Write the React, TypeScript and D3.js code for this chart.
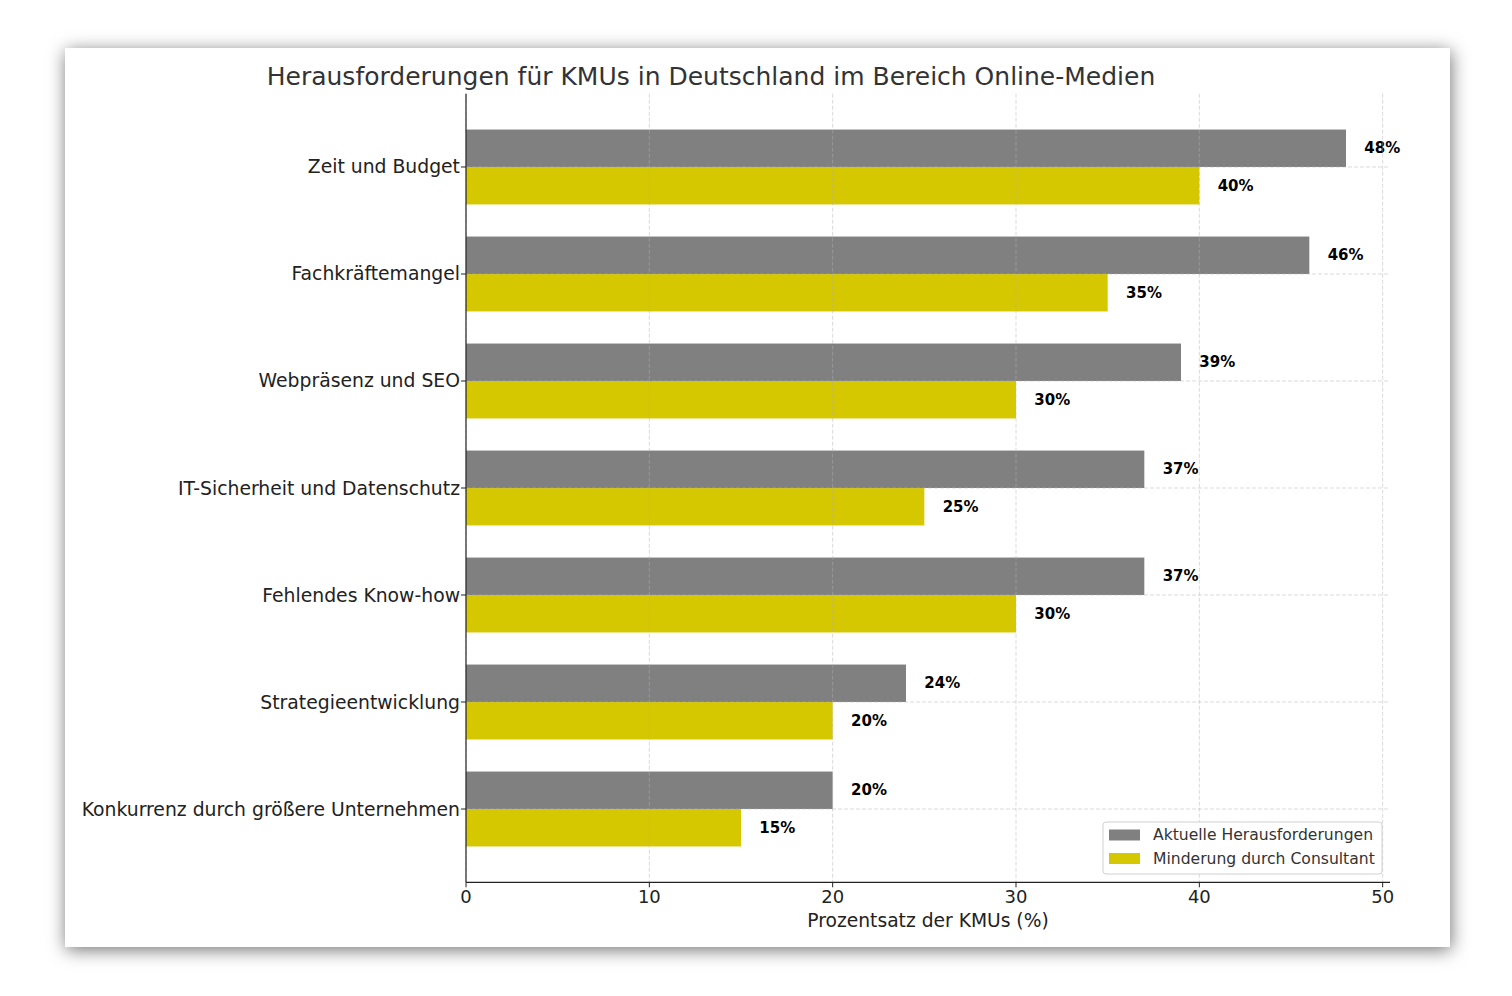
import React from "react";
import * as d3 from "d3";

const categories = [
  "Zeit und Budget",
  "Fachkräftemangel",
  "Webpräsenz und SEO",
  "IT-Sicherheit und Datenschutz",
  "Fehlendes Know-how",
  "Strategieentwicklung",
  "Konkurrenz durch größere Unternehmen",
];
const current = [48, 46, 39, 37, 37, 24, 20];
const mitigated = [40, 35, 30, 25, 30, 20, 15];
const xTicks = [0, 10, 20, 30, 40, 50];
const seriesNames = ["Aktuelle Herausforderungen", "Minderung durch Consultant"];
const colors = ["#808080", "#d5c700"];

const FONT = "'DejaVu Sans', Verdana, sans-serif";

export default function App() {
  const left = 466, right = 1390, top = 93.7, bottom = 882.3;
  const x = d3.scaleLinear().domain([0, 50.4]).range([left, right]);
  const y = d3.scaleLinear().domain([-0.685, 6.685]).range([top, bottom]);
  const bh = 0.35;

  return (
    <div style={{ position: "absolute", left: 0, top: 0 }}>
      <svg width={1512} height={996} style={{ display: "block", fontFamily: FONT }}>
        <defs>
          <filter id="shadow" x="-10%" y="-10%" width="120%" height="120%">
            <feDropShadow dx="1" dy="3" stdDeviation="9" floodColor="#000" floodOpacity="0.55" />
          </filter>
        </defs>
        <rect width={1512} height={996} fill="#fff" />
        <rect x={65} y={48} width={1385} height={899} fill="#fff" filter="url(#shadow)" />

        <text x={711} y={76} textAnchor="middle" dominantBaseline="central" fontSize={25} fill="#333">
          Herausforderungen für KMUs in Deutschland im Bereich Online-Medien
        </text>

        {/* bars */}
        {categories.map((c, i) => (
          <g key={c}>
            <rect x={x(0)} y={y(i - bh)} width={x(current[i]) - x(0)} height={y(i) - y(i - bh)} fill={colors[0]} />
            <rect x={x(0)} y={y(i)} width={x(mitigated[i]) - x(0)} height={y(i + bh) - y(i)} fill={colors[1]} />
            <text x={x(current[i] + 1)} y={y(i - bh / 2)} dominantBaseline="central" fontSize={15} fontWeight="bold" fill="#000">
              {current[i]}%
            </text>
            <text x={x(mitigated[i] + 1)} y={y(i + bh / 2)} dominantBaseline="central" fontSize={15} fontWeight="bold" fill="#000">
              {mitigated[i]}%
            </text>
          </g>
        ))}

        {/* grid */}
        <g stroke="#b0b0b0" strokeOpacity={0.6} strokeWidth={0.8} strokeDasharray="4,2">
          {xTicks.map((t) => (
            <line key={"gx" + t} x1={x(t)} x2={x(t)} y1={top} y2={bottom} />
          ))}
          {categories.map((c, i) => (
            <line key={"gy" + i} x1={left} x2={right} y1={y(i)} y2={y(i)} />
          ))}
        </g>

        {/* axes */}
        <line x1={left} x2={left} y1={top} y2={bottom} stroke="#222" strokeWidth={1.2} />
        <line x1={left} x2={right} y1={bottom} y2={bottom} stroke="#222" strokeWidth={1.2} />
        {xTicks.map((t) => (
          <g key={"xt" + t}>
            <line x1={x(t)} x2={x(t)} y1={bottom} y2={bottom + 5} stroke="#222" strokeWidth={1} />
            <text x={x(t)} y={bottom + 14} textAnchor="middle" dominantBaseline="central" fontSize={18} fill="#222">
              {t}
            </text>
          </g>
        ))}
        {categories.map((c, i) => (
          <g key={"yt" + i}>
            <line x1={left - 5} x2={left} y1={y(i)} y2={y(i)} stroke="#222" strokeWidth={1} />
            <text x={left - 6} y={y(i)} textAnchor="end" dominantBaseline="central" fontSize={18.8} fill="#222">
              {c}
            </text>
          </g>
        ))}
        <text x={(left + right) / 2} y={920} textAnchor="middle" dominantBaseline="central" fontSize={18.7} fill="#222">
          Prozentsatz der KMUs (%)
        </text>

        {/* legend */}
        <g>
          <rect x={1103} y={822} width={279} height={52} rx={3} fill="#fff" fillOpacity={0.85} stroke="#d0d0d0" />
          {seriesNames.map((s, i) => (
            <g key={s}>
              <rect x={1109} y={829.5 + i * 23.5} width={31} height={11} fill={colors[i]} />
              <text x={1153} y={835 + i * 23.5} dominantBaseline="central" fontSize={15.6} fill="#333">
                {s}
              </text>
            </g>
          ))}
        </g>
      </svg>
    </div>
  );
}
